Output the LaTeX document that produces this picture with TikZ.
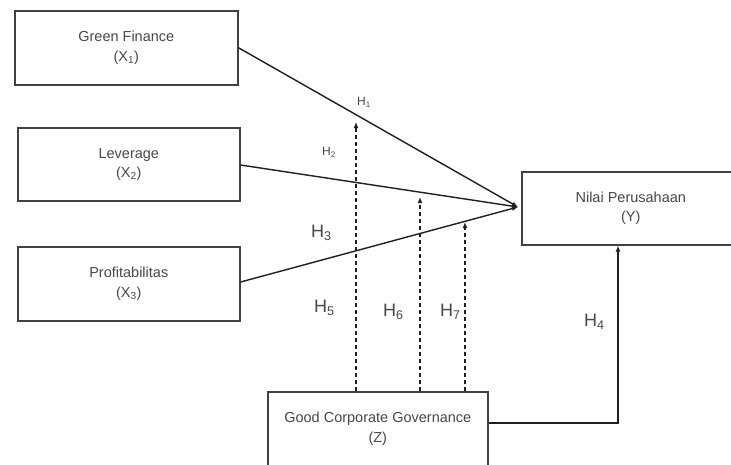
\documentclass[tikz,border=0pt]{standalone}
\usepackage{fontspec}
\setmainfont{Liberation Sans}
\usetikzlibrary{arrows.meta}
\begin{document}
\begin{tikzpicture}[x=1pt,y=-1pt,
  box/.style={draw=black!75, line width=1.6pt, fill=white, text=black!72,
    font=\fontsize{14.5}{19.5}\selectfont, align=center, inner sep=0pt, anchor=north west},
  link/.style={draw=black!88, line width=1.4pt, -{Latex[length=6pt,width=5pt]}},
  modlink/.style={link, dash pattern=on 4pt off 3pt},
  hbig/.style={text=black!72, anchor=west, inner sep=0pt, font=\fontsize{18}{18}\selectfont},
  hsmall/.style={text=black!72, anchor=west, inner sep=0pt, font=\fontsize{12}{12}\selectfont}]
\useasboundingbox (0,0) rectangle (731,464);
\clip (0,0) rectangle (731,464);
\fill[white] (0,0) rectangle (731,464);
% boxes
\node[box, minimum width=223pt, minimum height=74pt] (gf) at (14,10) {Green Finance\\(X\textsubscript{1})};
\node[box, minimum width=222pt, minimum height=73pt] (lev) at (17,127) {Leverage\\(X\textsubscript{2})};
\node[box, minimum width=222pt, minimum height=74pt] (prof) at (17,246) {Profitabilitas\\(X\textsubscript{3})};
\node[box, minimum width=218pt, minimum height=73pt] (ny) at (521,171) {Nilai Perusahaan\\(Y)};
\node[box, minimum width=220pt, minimum height=74pt] (gcg) at (267,391) {Good Corporate Governance\\(Z)};
% convergence point and arrow ends
\coordinate (P) at (518,207);
\coordinate (t5) at (356,122);
\coordinate (t6) at (420,197);
\coordinate (t7) at (465,222);
\coordinate (c4) at (618,423);
% direct effects
\draw[link] (gf.east) -- (P);
\draw[link] (lev.east |- 0,165) -- (P);
\draw[link] (prof.east |- 0,282) -- (P);
% moderation
\draw[modlink] (gcg.north -| t5) -- (t5);
\draw[modlink] (gcg.north -| t6) -- (t6);
\draw[modlink] (gcg.north -| t7) -- (t7);
% H4
\draw[link] (gcg.east |- c4) -- (c4) -- (ny.south -| c4);
% labels
\node[hsmall] (h1) at (357,102) {H\textsubscript{1}};
\node[hsmall] (h2) at (322,152) {H\textsubscript{2}};
\node[hbig] (h3) at (311,233) {H\textsubscript{3}};
\node[hbig] (h5) at (314,308) {H\textsubscript{5}};
\node[hbig] (h6) at (383,312) {H\textsubscript{6}};
\node[hbig] (h7) at (440,312) {H\textsubscript{7}};
\node[hbig] (h4) at (584,322) {H\textsubscript{4}};
\end{tikzpicture}
\end{document}
